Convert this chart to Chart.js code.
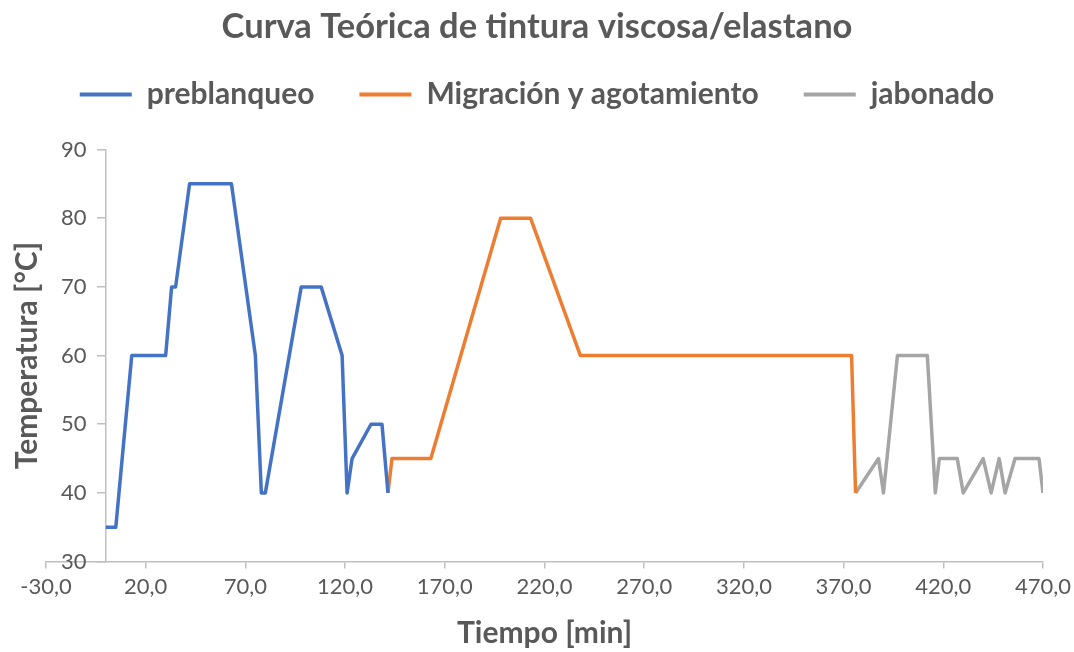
<!DOCTYPE html>
<html>
<head>
<meta charset="utf-8">
<script src="https://cdn.jsdelivr.net/npm/chart.js@4"></script>
<style>
  html, body { margin: 0; padding: 0; background: #fff; }
  #wrap { width: 1074px; height: 652px; }
</style>
</head>
<body>
<div id="wrap"><canvas id="curva"></canvas></div>
<script>
// datos
const tiempoPre = [0, 5, 13, 30, 33, 35, 42, 63, 75, 78, 80, 98, 108, 118.5, 121, 123.5, 133, 138.5, 141.5];
const tempPre   = [35, 35, 60, 60, 70, 70, 85, 85, 60, 40, 40, 70, 70, 60, 40, 45, 50, 50, 40];

const tiempoMig = [141.5, 143.5, 163, 198, 213, 238, 374, 376];
const tempMig   = [40, 45, 45, 80, 80, 60, 60, 40];

const tiempoJab = [376, 387.5, 390, 397, 412, 416, 418, 427, 430, 440, 444, 448, 451, 456, 468, 470];
const tempJab   = [40, 45, 40, 60, 60, 40, 45, 45, 40, 45, 40, 45, 40, 45, 45, 40];

const series = ['preblanqueo', 'Migración y agotamiento', 'jabonado'];
const colores = ['#4472C4', '#ED7D31', '#A5A5A5'];

const xMin = -30, xMax = 470, xPaso = 50;
const yMin = 30, yMax = 90, yPaso = 10;

const gris = '#595959';
const ejeColor = '#BFBFBF';
const fuente = 'Lato, "Open Sans", sans-serif';

function puntos(xs, ys) {
    return xs.map((x, i) => ({ x: x, y: ys[i] }));
}

const datasets = [
    puntos(tiempoPre, tempPre),
    puntos(tiempoMig, tempMig),
    puntos(tiempoJab, tempJab),
].map((d, i) => ({
    label: series[i],
    data: d,
    borderColor: colores[i],
    backgroundColor: colores[i],
    borderWidth: 3.5,
    borderJoinStyle: 'round',
    pointRadius: 0,
    tension: 0,
    xAxisID: 'x',
    yAxisID: 'y',
}));

const ctx = document.getElementById('curva').getContext('2d');
const chart = new Chart(ctx, {
    type: 'line',
    data: { datasets: datasets },
    options: {
        responsive: true,
        maintainAspectRatio: false,
        animation: false,
        layout: { padding: { left: 0, right: 0, top: 0, bottom: 1 } },
        plugins: {
            title: {
                display: true,
                text: 'Curva Teórica de tintura viscosa/elastano',
                color: gris,
                font: { family: fuente, size: 34.5, weight: 'bold', lineHeight: 0.45 },
                padding: { top: 19, bottom: 0 },
            },
            legend: {
                display: true,
                labels: {
                    color: gris,
                    font: { family: fuente, size: 30, weight: 'bold' },
                    boxWidth: 52,
                    boxHeight: 4,
                    padding: 45,
                    generateLabels: (c) => Chart.defaults.plugins.legend.labels.generateLabels(c)
                        .map(l => Object.assign(l, { lineWidth: 0 })),
                },
            },
            tooltip: { enabled: false },
        },
        scales: {
            x: {
                type: 'linear',
                position: 'bottom',
                min: xMin,
                max: xMax,
                ticks: {
                    stepSize: xPaso,
                    color: gris,
                    font: { family: fuente, size: 22 },
                    padding: 5,
                    maxRotation: 0,
                    callback: (v) => v.toFixed(1).replace('.', ','),
                },
                grid: { drawOnChartArea: false, drawTicks: true, tickLength: 7, color: ejeColor, lineWidth: 1.5 },
                border: { display: true, color: ejeColor, width: 1.5 },
                title: {
                    display: true,
                    text: 'Tiempo [min]',
                    color: gris,
                    font: { family: fuente, size: 30, weight: 'bold' },
                    padding: { top: 10, bottom: 0 },
                },
                // margen derecho fijo para la etiqueta 470,0
                afterFit: (s) => { s.paddingLeft = 0; s.paddingRight = 31; },
            },
            // espacio entre leyenda y area del grafico
            xArriba: {
                type: 'linear',
                axis: 'x',
                position: 'top',
                ticks: { display: false },
                grid: { display: false },
                border: { display: false },
                afterFit: (s) => { s.height = 30; },
            },
            // eje vertical cruzando en x = 0 (linea y marcas)
            y: {
                type: 'linear',
                position: { x: 0 },
                min: yMin,
                max: yMax,
                ticks: { stepSize: yPaso, display: false },
                grid: { drawOnChartArea: false, drawTicks: true, tickLength: 8, color: ejeColor, lineWidth: 1.5 },
                border: { display: true, color: ejeColor, width: 1.5 },
            },
            // titulo y etiquetas del eje vertical
            yTitulo: {
                type: 'linear',
                axis: 'y',
                position: 'left',
                min: yMin,
                max: yMax,
                ticks: {
                    stepSize: yPaso,
                    mirror: true,
                    padding: 15,
                    color: gris,
                    font: { family: fuente, size: 22 },
                },
                grid: { display: false },
                border: { display: false },
                title: {
                    display: true,
                    text: 'Temperatura [°C]',
                    color: gris,
                    font: { family: fuente, size: 30, weight: 'bold' },
                    padding: { top: 9, bottom: 0 },
                },
                afterFit: (s) => { s.width = 46; },
            },
        },
    },
});
</script>
</body>
</html>
